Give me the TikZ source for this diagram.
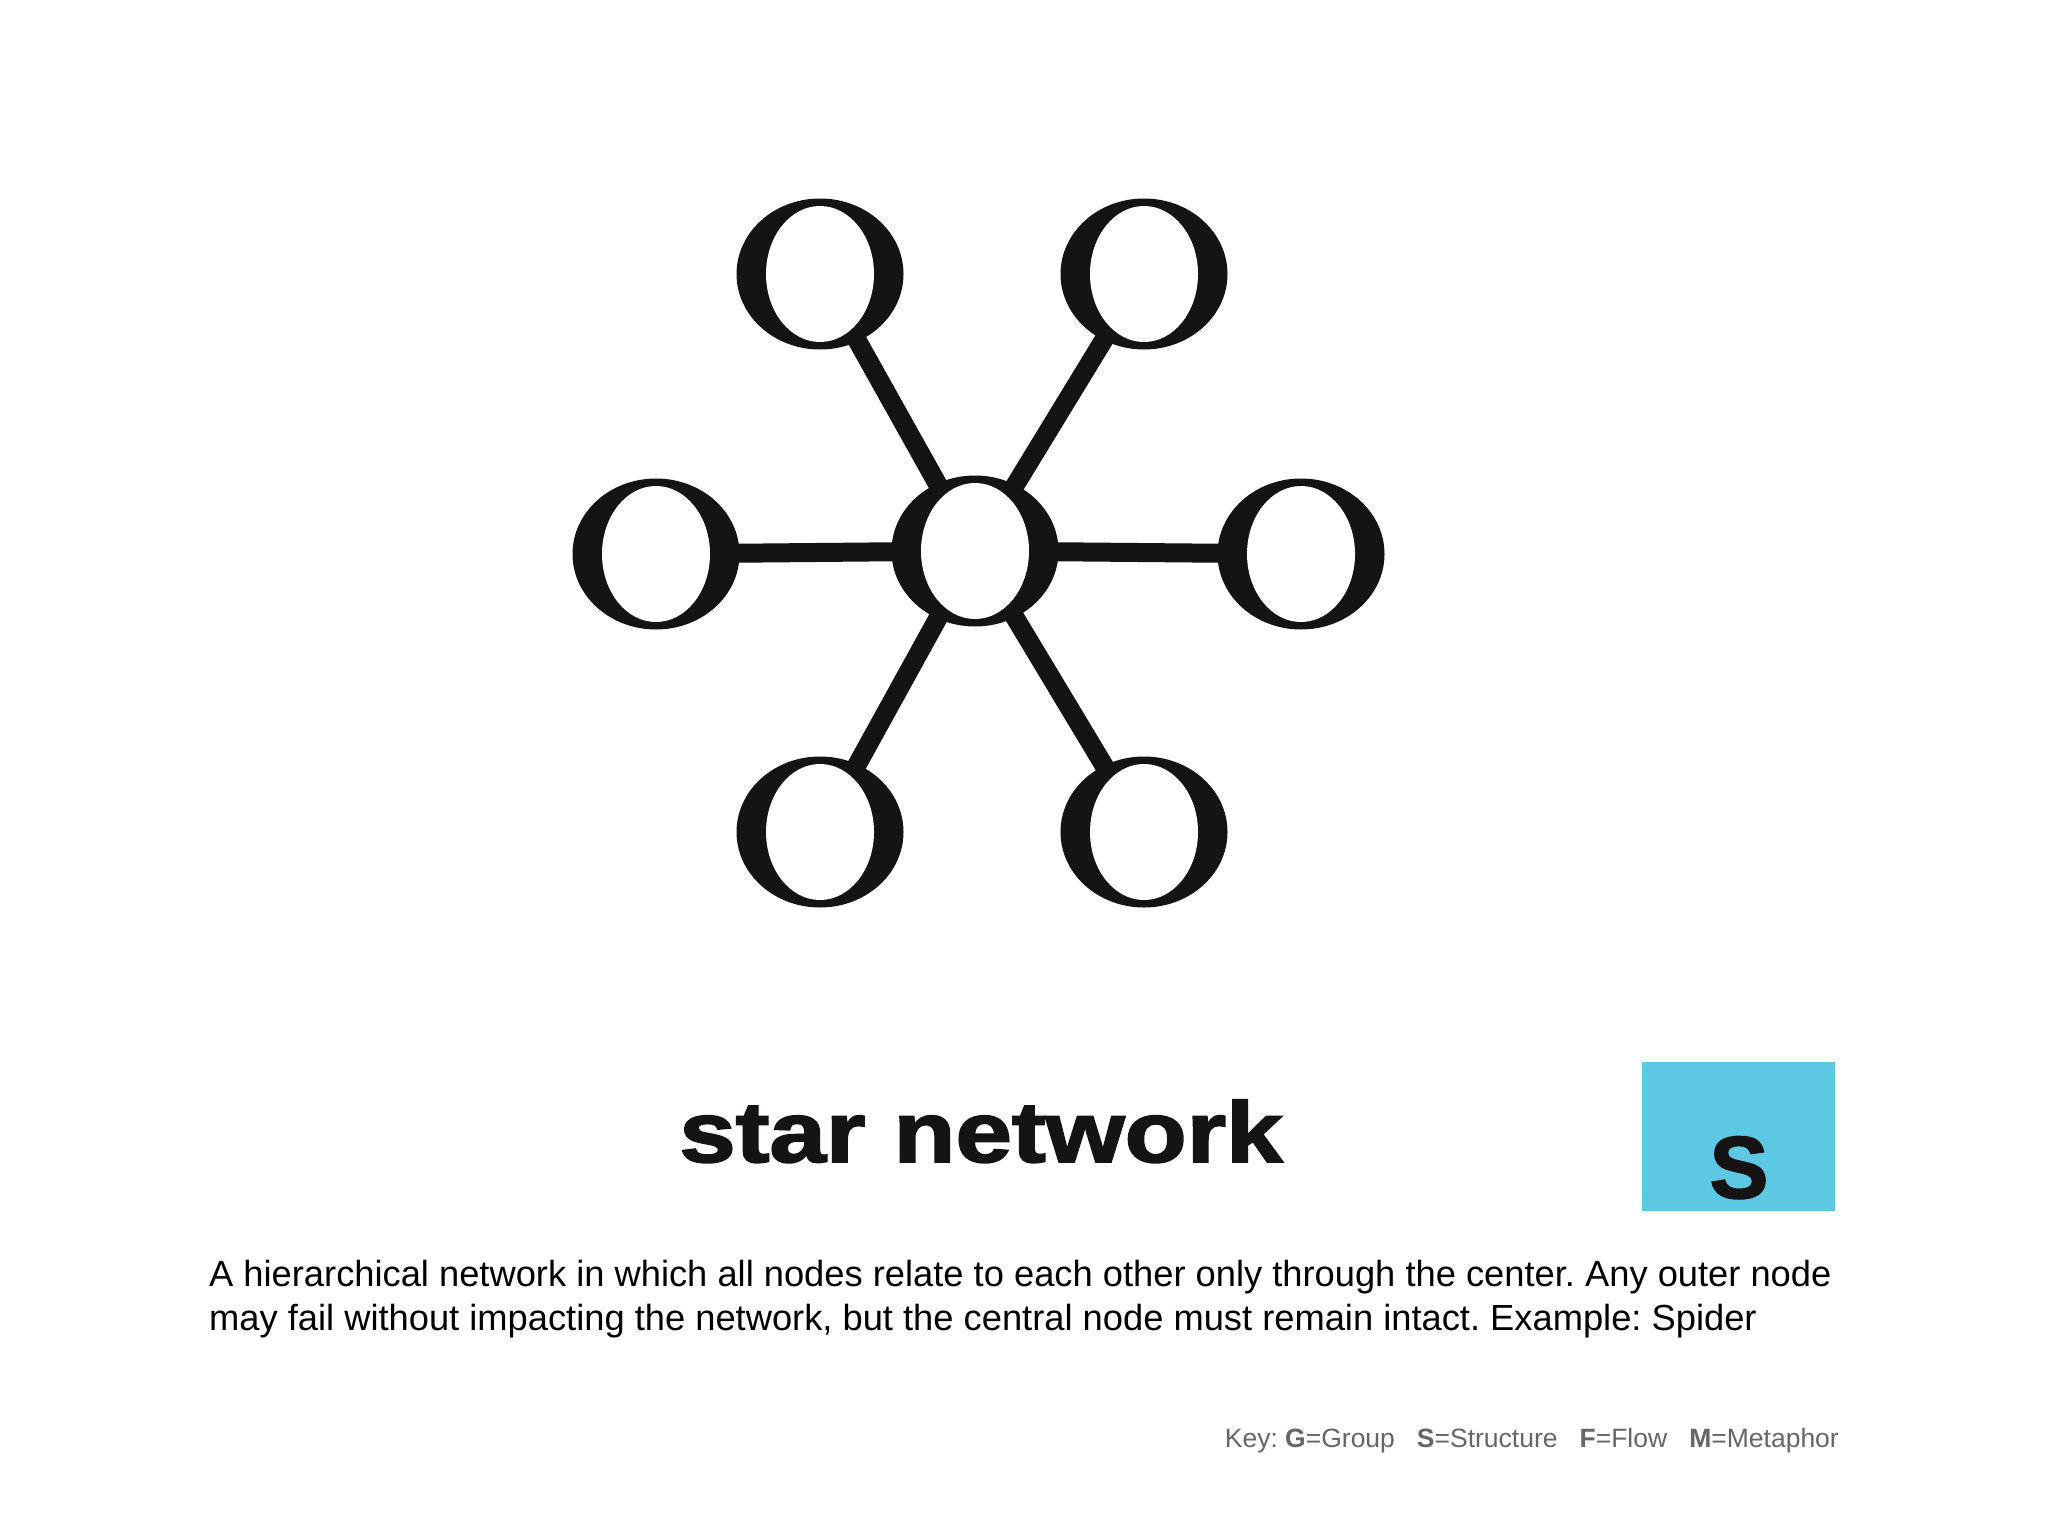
\documentclass[tikz,border=0pt]{standalone}
\usepackage{fontspec}
\usepackage{graphicx}
\setmainfont{Liberation Sans}
\newfontfamily\heavyfont{Liberation Sans Bold}[FakeBold=2]
\usetikzlibrary{shapes.geometric}
\definecolor{boxblue}{HTML}{5CC8E4}
\definecolor{keygray}{HTML}{666666}
\definecolor{inkblack}{HTML}{151313}
\tikzset{
  onode/.style={ellipse, fill=inkblack, minimum width=167pt, minimum height=151pt,
    inner sep=0pt, outer sep=0pt,
    path picture={\fill[white, rotate around={25:(path picture bounding box.center)}]
      (path picture bounding box.center) ellipse [x radius=54pt, y radius=68pt];}},
  link/.style={draw=inkblack, line width=19pt, shorten <=-6pt, shorten >=-6pt},
  sbox/.style={fill=boxblue, minimum width=193pt, minimum height=149pt, inner sep=0pt},
  desc/.style={anchor=base west, inner sep=0pt, text=black,
    font=\fontsize{36.3}{44}\selectfont},
  keytext/.style={anchor=base east, inner sep=0pt, text=keygray,
    font=\fontsize{26.5}{32}\selectfont},
  heavy/.style={inner sep=0pt, text=inkblack, anchor=base}
}
\begin{document}
\frenchspacing
\begin{tikzpicture}[x=1pt,y=-1pt]
\useasboundingbox[fill=white] (0,0) rectangle (2048,1536);
% nodes
\node[onode] (c)  at (975,551) {};
\node[onode] (tl) at (820,274) {};
\node[onode] (tr) at (1144,274) {};
\node[onode] (l)  at (656,554) {};
\node[onode] (r)  at (1301,554) {};
\node[onode] (bl) at (820,832) {};
\node[onode] (br) at (1144,832) {};
% connectors
\draw[link] (c) -- (tl);
\draw[link] (c) -- (tr);
\draw[link] (c) -- (l);
\draw[link] (c) -- (r);
\draw[link] (c) -- (bl);
\draw[link] (c) -- (br);
% title
\node[heavy, font=\heavyfont\fontsize{86}{100}\selectfont] (title) at (981,1162)
  {\scalebox{1.18}[1]{star network}};
% S box
\node[sbox] (sb) at (1738.5,1136.5) {};
\node[heavy, font=\heavyfont\fontsize{88}{100}\selectfont] (sl) at (1739,1198) {S};
% description
\node[desc] (d1) at (209,1286) {A hierarchical network in which all nodes relate to each other only through the center. Any outer node};
\node[desc] (d2) at (209,1330) {may fail without impacting the network, but the central node must remain intact. Example: Spider};
% key
\node[keytext] (key) at (1839,1447) {Key: \textbf{G}=Group\hspace{22pt}\textbf{S}=Structure\hspace{22pt}\textbf{F}=Flow\hspace{22pt}\textbf{M}=Metaphor};
\end{tikzpicture}
\end{document}
